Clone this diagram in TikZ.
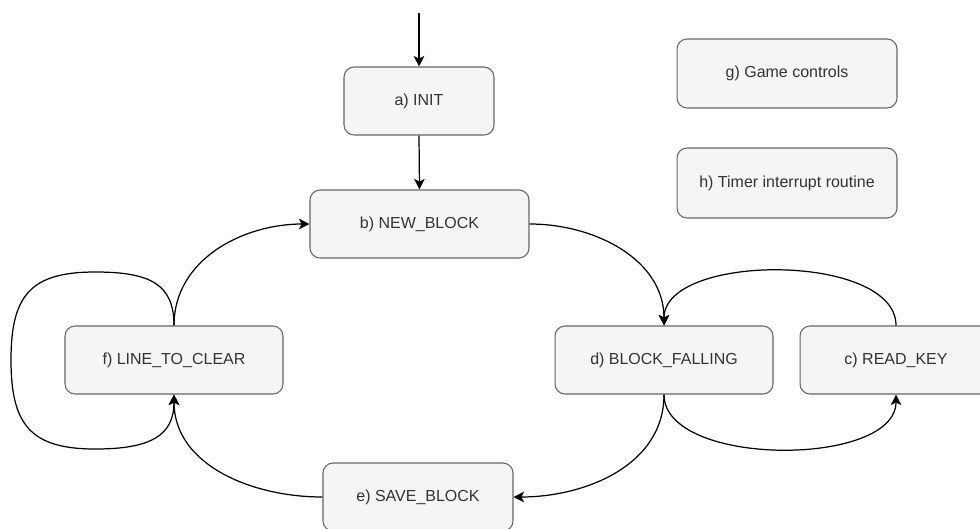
\documentclass[tikz,border=0pt]{standalone}
\usepackage{fontspec}
\setmainfont{Liberation Sans}
\usepackage{tikz}
\usetikzlibrary{arrows.meta}

\definecolor{boxfill}{HTML}{F5F5F5}
\definecolor{boxline}{HTML}{666666}
\definecolor{boxtext}{HTML}{333333}

\begin{document}
\begin{tikzpicture}[x=0.02cm, y=-0.02cm,
    state/.style={draw=boxline, fill=boxfill, line width=0.6pt, rounded corners=2mm,
      inner sep=0pt, minimum height=1.36cm, text=boxtext,
      font=\fontsize{9.1}{11}\selectfont},
    edge/.style={draw=black, line width=0.7pt,
      -{Stealth[length=6pt, width=6pt, inset=1.5pt]}}]
  \useasboundingbox (0,0) rectangle (980,528);

  % --- States ---
  \node[state, minimum width=3.0cm]  (init)    at (419,101)   {a) INIT};
  \node[state, minimum width=4.38cm] (newblk)  at (419.5,224) {b) NEW\_BLOCK};
  \node[state, minimum width=4.36cm] (lineclr) at (174,360)   {f) LINE\_TO\_CLEAR};
  \node[state, minimum width=4.36cm] (falling) at (664,360)   {d) BLOCK\_FALLING};
  \node[state, minimum width=3.84cm] (readkey) at (896,360)   {c) READ\_KEY};
  \node[state, minimum width=3.8cm]  (saveblk) at (418,497)   {e) SAVE\_BLOCK};

  % --- Routines (not linked) ---
  \node[state, minimum width=4.4cm, minimum height=1.38cm] (ctrl)  at (787,73.5) {g) Game controls};
  \node[state, minimum width=4.4cm, minimum height=1.4cm]  (timer) at (787,183)  {h) Timer interrupt routine};

  % --- Entry ---
  \coordinate (entry) at (419,13);
  \draw[edge] (entry) -- (init.north);
  \draw[edge] (init.south) -- (newblk.north);

  % --- Main cycle ---
  \draw[edge] (newblk.east) to[out=0, in=90] (falling.north);
  \draw[edge] (falling.south) to[out=-90, in=0] (saveblk.east);
  \draw[edge] (saveblk.west) to[out=180, in=-90] (lineclr.south);
  \draw[edge] (lineclr.north) to[out=90, in=180] (newblk.west);

  % --- Key polling loop ---
  \draw[edge] (falling.south) .. controls +(0,73) and +(0,73) .. (readkey.south);
  \draw[edge] (readkey.north) .. controls +(0,-73) and +(0,-73) .. (falling.north);

  % --- Line clearing repeats ---
  \coordinate (looptop) at (95,272);
  \coordinate (loopl) at (11,360);
  \coordinate (loopbot) at (95,449);
  \draw[edge] (lineclr.north) .. controls (174,284) and (150,272) .. (looptop)
    .. controls (30,272) and (11,296) .. (loopl)
    .. controls (11,424) and (30,449) .. (loopbot)
    .. controls (150,449) and (174,436) .. (lineclr.south);
\end{tikzpicture}
\end{document}
